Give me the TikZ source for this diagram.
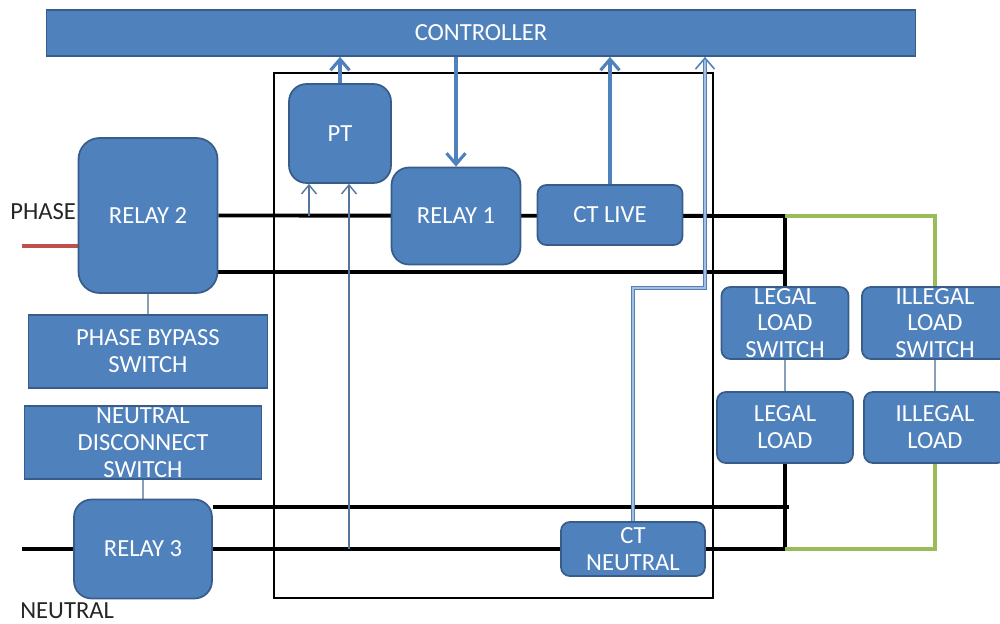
\documentclass[tikz,border=0pt]{standalone}
\usepackage{fontspec}
\setmainfont{Carlito}
\usetikzlibrary{arrows.meta,backgrounds,positioning}
\definecolor{boxFill}{HTML}{4F81BD}
\definecolor{boxEdge}{HTML}{385D8A}
\definecolor{sigLight}{HTML}{A7BFDE}
\definecolor{loadGreen}{HTML}{9BBB59}
\definecolor{phaseRed}{HTML}{C0504D}

\begin{document}
\begin{tikzpicture}[x=0.02cm, y=-0.02cm,
        block/.style={draw=boxEdge, line width=1pt, fill=boxFill, rounded corners=5pt, align=center, text=white, font=\fontsize{14}{15.3}\selectfont, inner sep=0pt},
        relay/.style={block, rounded corners=10pt},
        panel/.style={block, sharp corners},
        wire/.style={line width=2.2pt, draw=black},
        loadWire/.style={line width=2.2pt, draw=loadGreen},
        liveIn/.style={line width=2.2pt, draw=phaseRed},
        link/.style={line width=0.6pt, draw=boxEdge!60},
        sig/.style={-{Straight Barb[length=2.2mm, width=3.8mm]}, line width=1.8pt, draw=boxFill},
        sense/.style={-{Straight Barb[length=1.8mm, width=3mm]}, line width=0.8pt, draw=boxEdge!85},
        tag/.style={font=\fontsize{14}{15.3}\selectfont, text=black!85, inner sep=0pt}
      ]
      \useasboundingbox (0,0) rectangle (1000,624);

      \node[panel, minimum width=17.38cm, minimum height=0.92cm] (ctrl) at (481,33) {CONTROLLER};
      \node[draw=black, line width=1.5pt, minimum width=8.78cm, minimum height=10.5cm] (meter) at (493.5,335.5) {};

      \node[relay, minimum width=2.04cm, minimum height=1.98cm] (pt) at (340,133.5) {PT};
      \node[relay, minimum width=2.58cm, minimum height=1.94cm] (relay1) at (456,216) {RELAY 1};
      \node[block, minimum width=2.9cm, minimum height=1.2cm] (ctlive) at (610,215) {CT LIVE};
      \node[block, minimum width=2.88cm, minimum height=1.08cm] (ctneutral) at (633,549) {CT\\NEUTRAL};

      \node[tag, anchor=base west] (phaselbl) at (10,220) {PHASE};
      \node[tag, anchor=base west] (neutlbl) at (20,618) {NEUTRAL};

      \node[relay, rounded corners=12pt, minimum width=2.78cm, minimum height=3.1cm] (relay2) at (148,215.5) {RELAY 2};
      \node[panel, minimum width=4.78cm, minimum height=1.46cm] (bypass) at (148,351.5) {PHASE BYPASS\\SWITCH};
      \node[panel, minimum width=4.74cm, minimum height=1.46cm] (disconnect) at (143,442.5) {NEUTRAL\\DISCONNECT\\SWITCH};
      \node[relay, minimum width=2.76cm, minimum height=1.98cm] (relay3) at (143,549) {RELAY 3};

      \node[block, minimum width=2.54cm, minimum height=1.44cm] (legalsw) at (785,323) {LEGAL\\LOAD\\SWITCH};
      \node[block, minimum width=2.92cm, minimum height=1.44cm] (illegalsw) at (935,323) {ILLEGAL\\LOAD\\SWITCH};
      \node[block, minimum width=2.72cm, minimum height=1.42cm] (legalload) at (785,427.5) {LEGAL\\LOAD};
      \node[block, minimum width=2.84cm, minimum height=1.42cm] (illegalload) at (935,427.5) {ILLEGAL\\LOAD};

      \coordinate (phasein) at (22,246);
      \coordinate (neutin) at (22,549);
      \coordinate (busL) at (785,216);
      \coordinate (busLlow) at (785,272);
      \coordinate (busN) at (785,549);
      \coordinate (busNhigh) at (789,507);
      \coordinate (ctnbend) at (705,288);
      \coordinate (senseL) at (309,216);
      \coordinate (senseN) at (349,549);

      \begin{scope}[on background layer]
        \draw[liveIn] (phasein) -- (phasein -| relay2.west);
        \draw[wire] (relay2.east) -- (busL);
        \draw[wire] (busLlow -| relay2.east) -- (busLlow);
        \draw[wire] (busL) -- (legalsw.north);
        \draw[wire] (legalload.south) -- (busN);
        \draw[wire] (neutin) -- (relay3.west);
        \draw[wire] (relay3.east) -- (ctneutral.west);
        \draw[wire] (ctneutral.east) -- (busN);
        \draw[wire] (busNhigh -| relay3.east) -- (busNhigh);
        \draw[loadWire] (busL) -| (illegalsw.north);
        \draw[loadWire] (busN) -| (illegalload.south);
        \draw[link] (relay2.south) -- (bypass.north);
        \draw[link] (disconnect.south) -- (relay3.north);
        \draw[link] (legalsw) -- (legalload);
        \draw[link] (illegalsw) -- (illegalload);
      \end{scope}

      \draw[sig] (pt.north) -- (pt.north |- ctrl.south);
      \draw[sig] (ctrl.south -| relay1.north) -- (relay1.north);
      \draw[sig] (ctlive.north) -- (ctlive.north |- ctrl.south);
      \draw[sig, line width=0.9pt, double=sigLight, double distance=1pt] (ctneutral.north) |- (ctnbend) -- (ctnbend |- ctrl.south);
      \draw[sense] (senseL) -- (senseL |- pt.south);
      \draw[sense] (senseN) -- (senseN |- pt.south);
    \end{tikzpicture}
\end{document}
